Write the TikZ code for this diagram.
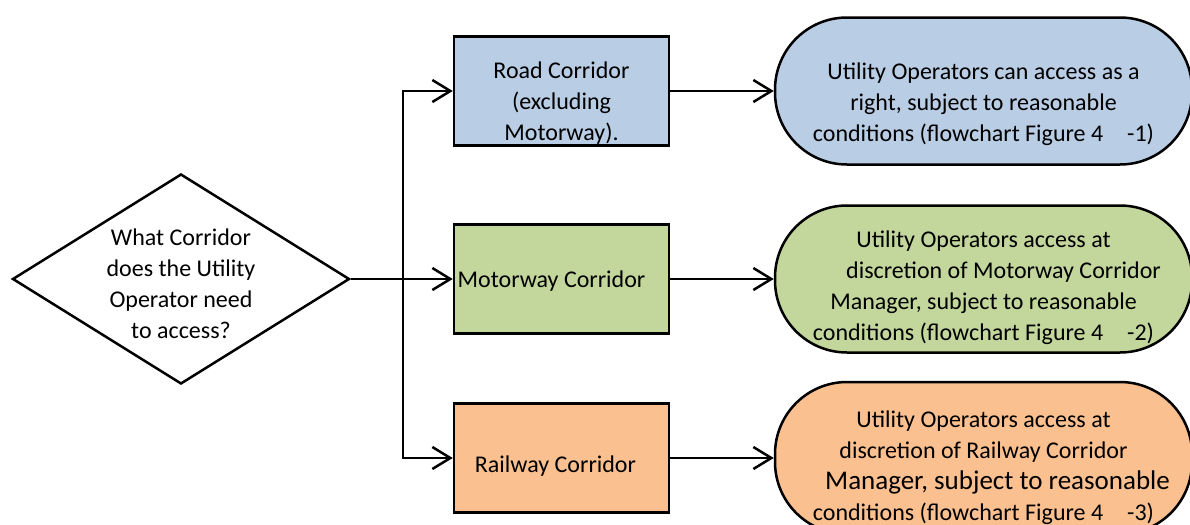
\documentclass[tikz,border=0pt]{standalone}
\usepackage{fontspec}
\setmainfont{Carlito}
\usetikzlibrary{shapes.geometric,arrows.meta}

\definecolor{roadblue}{HTML}{B9CDE5}
\definecolor{motorgreen}{HTML}{C3D69B}
\definecolor{railorange}{HTML}{FAC090}

% text lines set a little below the middle of their box
\newcommand{\lowtext}[2]{\raisebox{-#1}[\height][\depth]{\begin{tabular}{@{}c@{}}#2\end{tabular}}}

\tikzset{
  corridor/.style={draw, line width=1.25pt, minimum width=107.5pt, minimum height=54.5pt, align=center, inner sep=2pt},
  outcome/.style={draw, line width=1.25pt, rounded corners=36pt, minimum width=208.5pt, minimum height=73.5pt, align=center, inner sep=2pt},
  flow/.style={line width=1.25pt, -{Straight Barb[length=9pt,width=11pt,line width=1.25pt]}},
}

\begin{document}
\begin{tikzpicture}[x=0.5pt, y=-0.5pt, font=\fontsize{12}{15.5}\selectfont]
\useasboundingbox (0,0) rectangle (1190,525);

% question
\node[diamond, draw, line width=1.25pt, minimum width=168.5pt, minimum height=105pt, inner sep=-20pt] (question) at (181,279)
  {\lowtext{3.5pt}{What Corridor\\does the Utility\\Operator need\\to access?}};

% corridors
\node[corridor, fill=roadblue] (road) at (561.5,91) {\lowtext{6pt}{Road Corridor\\(excluding\\Motorway).}};
\node[corridor, fill=motorgreen] (motor) at (561.5,279) {\lowtext{1pt}{\hspace*{-10pt}Motorway Corridor}};
\node[corridor, fill=railorange] (rail) at (561.5,458) {\lowtext{4pt}{\hspace*{-6pt}Railway Corridor}};

% outcomes
\node[outcome, fill=roadblue] (roadout) at (983.5,91)
  {\lowtext{6.5pt}{Utility Operators can access as a\\right, subject to reasonable\\conditions (flowchart Figure 4\hspace{1em}-1)}};
\node[outcome, fill=motorgreen] (motorout) at (983.5,279)
  {\lowtext{4.5pt}{Utility Operators access at\\\hspace*{20pt}discretion of Motorway Corridor\\Manager, subject to reasonable\\conditions (flowchart Figure 4\hspace{1em}-2)}};
\node[outcome, fill=railorange, minimum height=76pt] (railout) at (983.5,458)
  {\lowtext{5pt}{Utility Operators access at\\discretion of Railway Corridor\\{\fontsize{13.5}{15.5}\selectfont\hspace*{14pt}Manager, subject to reasonable}\\conditions (flowchart Figure 4\hspace{1em}-3)}};

% connectors
\coordinate (split) at (403,279);
\draw[flow] (question.east) -- (motor.west);
\draw[flow] (split) |- (road.west);
\draw[flow] (split) |- (rail.west);
\draw[flow] (road) -- (roadout);
\draw[flow] (motor) -- (motorout);
\draw[flow] (rail) -- (railout);
\end{tikzpicture}
\end{document}
